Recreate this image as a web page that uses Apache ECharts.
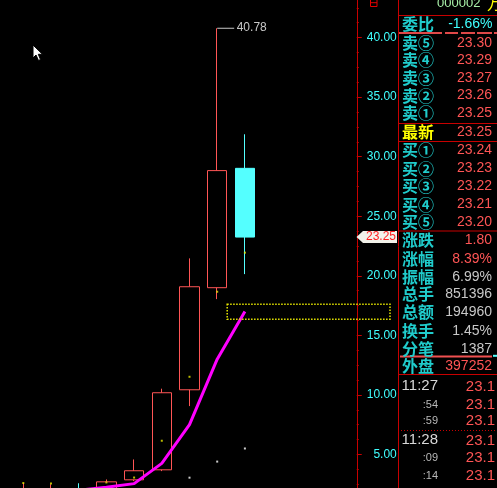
<!DOCTYPE html>
<html><head><meta charset="utf-8">
<script src="https://cdn.jsdelivr.net/npm/echarts@6/dist/echarts.min.js"></script>
<style>html,body{margin:0;padding:0;background:#000;overflow:hidden;width:497px;height:488px}
#c{position:absolute;left:0;top:-22px;width:497px;height:536px;}</style>
</head><body><div id="c"></div>
<script>
// ---- data ----
const categories = ['1','2','3','4','5','6','7','8','9','10','11','12'];
// [open, close, low, high]
const ohlc = [
  [1.95, 2.00, 1.85, 2.60],
  [1.95, 2.05, 1.90, 2.50],
  [2.10, 2.00, 1.90, 2.58],
  [1.90, 2.70, 1.85, 2.90],
  [2.87, 3.63, 2.76, 4.58],
  [3.71, 10.18, 3.60, 10.52],
  [10.43, 19.08, 9.06, 21.46],
  [19.00, 28.83, 18.04, 40.78],
  [29.02, 23.25, 20.14, 31.88]
];
const maLine = [null, null, 2.00, 2.25, 2.55, 4.25, 7.50, 13.00, 17.00];
const avgDots = [2.60, 2.56, null, 2.65, 3.06, 6.15, 11.52, 18.66, 21.94];
const whiteDots = [null, null, null, null, null, null, 3.05, 4.40, 5.50];
const yTicks = {min: 0, max: 45, step: 5};
const lastPrice = 23.25;
const highLabel = 40.78;
const stockCode = '000002';
const stockName = '万科A';
const weibiLabel = '委比';
const weibiValue = '-1.66%';
const bookLabels = ['卖⑤','卖④','卖③','卖②','卖①','最新','买①','买②','买③','买④','买⑤'];
const bookPrices = ['23.30','23.29','23.27','23.26','23.25','23.25','23.24','23.23','23.22','23.21','23.20'];
const statLabels = ['涨跌','涨幅','振幅','总手','总额','换手','分笔','外盘'];
const statValues = ['1.80','8.39%','6.99%','851396','194960','1.45%','1387','397252'];
const tickTimes = ['11:27',':54',':59','11:28',':09',':14'];
const tickPrices = ['23.1','23.1','23.1','23.1','23.1','23.1'];

// ---- layout / style ----
const OFF = 22; // chart canvas starts 22px above the window
const RED = '#ff5555', CYAN = '#54ffff', AXIS = '#c80000', TEAL = '#20cccc', GRAY = '#c8c8c8';
const NUMF = 'Liberation Sans, Arial, sans-serif';
const CJKF = '"Noto Sans CJK SC", sans-serif';
const LBLF = 'bold 16px ' + CJKF;
const bookY = [42.8, 60.3, 78, 95.5, 113, 132, 150.3, 168.5, 186.3, 204.5, 222];
const statY = [240, 258.7, 276.7, 294, 312, 331.3, 348.7, 366.3];
const statColors = [RED, RED, GRAY, GRAY, GRAY, GRAY, GRAY, RED];
const timeY = [385.8, 404.7, 421.3, 440.2, 457.5, 475.8];

const chart = echarts.init(document.getElementById('c'), null, {renderer: 'canvas'});
chart.setOption({
  backgroundColor: '#000',
  animation: false,
  grid: {left: 9.45, right: 155.15, top: 0, bottom: 0, containLabel: false, outerBoundsMode: 'none'},
  xAxis: {type: 'category', data: categories, boundaryGap: true, show: false},
  yAxis: {
    type: 'value', position: 'right', min: yTicks.min, max: yTicks.max, interval: yTicks.step, offset: 14.9,
    axisLine: {show: true, lineStyle: {color: AXIS, width: 1}},
    axisTick: {show: true, length: 5, lineStyle: {color: AXIS}},
    minorTick: {show: true, splitNumber: 4, length: 2, lineStyle: {color: AXIS}},
    splitLine: {show: false},
    axisLabel: {color: '#40ffff', fontSize: 12, fontFamily: NUMF, align: 'right', margin: 40,
      formatter: v => v.toFixed(2)}
  },
  series: [
    {type: 'candlestick', data: ohlc, barWidth: 20,
      itemStyle: {color: 'rgba(0,0,0,0)', color0: CYAN, borderColor: RED, borderColor0: CYAN, borderWidth: 1}},
    {type: 'line', data: maLine, symbol: 'none', lineStyle: {color: '#ff00ff', width: 3}, z: 3},
    {type: 'scatter', data: avgDots, symbol: 'rect', symbolSize: 2, itemStyle: {color: '#e8e800'}, z: 4},
    {type: 'scatter', data: whiteDots, symbol: 'rect', symbolSize: 2, itemStyle: {color: '#ffffff'}, z: 4}
  ]
});

function txt(text, x, y, fill, font, align) {
  return {type: 'text', z: 100, style: {text: text, x: x, y: y + OFF, fill: fill, font: font,
    align: align || 'left', textAlign: align || 'left', verticalAlign: 'middle', textVerticalAlign: 'middle'}};
}
function ln(x1, y1, x2, y2, stroke, w, dash) {
  return {type: 'line', z: 90, shape: {x1: x1, y1: y1 + OFF, x2: x2, y2: y2 + OFF},
    style: {stroke: stroke, lineWidth: w || 1, lineDash: dash || null}};
}
function pts(list) { return list.map(p => [p[0], p[1] + OFF]); }

const g = [];
// last price tag (positions from the y scale; already in canvas coords)
const yLast = chart.convertToPixel({yAxisIndex: 0}, lastPrice);
const axisX = 356.5;
g.push({type: 'polygon', z: 95, shape: {points: [[axisX, yLast], [axisX + 6.5, yLast - 6], [397, yLast - 6], [397, yLast + 6], [axisX + 6.5, yLast + 6]]},
  style: {fill: '#f2f2ea'}});
g.push({type: 'text', z: 100, style: {text: lastPrice.toFixed(2), x: 396, y: yLast, fill: '#ff2020', font: '12px ' + NUMF,
  align: 'right', textAlign: 'right', verticalAlign: 'middle', textVerticalAlign: 'middle'}});
// high label
const hx = chart.convertToPixel({xAxisIndex: 0}, categories[7]);
const hy = chart.convertToPixel({yAxisIndex: 0}, highLabel);
g.push({type: 'line', z: 90, shape: {x1: hx, y1: hy, x2: hx + 17, y2: hy}, style: {stroke: GRAY, lineWidth: 1}});
g.push({type: 'text', z: 100, style: {text: highLabel.toFixed(2), x: hx + 19.5, y: hy - 1, fill: GRAY, font: '12px ' + NUMF,
  align: 'left', textAlign: 'left', verticalAlign: 'middle', textVerticalAlign: 'middle'}});
// yellow dotted box (MA readout box)
const bTop = chart.convertToPixel({yAxisIndex: 0}, 17.6);
const bBot = chart.convertToPixel({yAxisIndex: 0}, 16.36);
g.push({type: 'rect', z: 92, shape: {x: hx + 10, y: bTop, width: 390 - hx - 10, height: bBot - bTop},
  style: {fill: null, stroke: '#e8e800', lineWidth: 1.5, lineDash: [1.5, 1.5]}});
// mouse cursor
g.push({type: 'polygon', z: 120, shape: {points: pts([[33, 45], [33, 58], [36, 55], [38.5, 60.5], [40.5, 59.5], [38.3, 54.3], [42.5, 54.3]])},
  style: {fill: '#ffffff', stroke: '#000000', lineWidth: 1}});
// small red icon at top of axis
g.push({type: 'rect', z: 92, shape: {x: 370.5, y: -3 + OFF, width: 6.5, height: 9.5}, style: {fill: null, stroke: '#e00000', lineWidth: 1}});
g.push(ln(370.5, 2.7, 377, 2.7, '#e00000', 1));

// right panel
g.push(ln(398.5, -OFF, 398.5, 520, AXIS, 1));
g.push(txt(stockCode, 437, 3.5, '#a8f0a8', '13px ' + NUMF, 'left'));
g.push(txt(stockName, 487, 3, '#ffff00', '16px ' + CJKF, 'left'));
g.push(ln(398, 15.5, 497, 15.5, AXIS, 1));
g.push(txt(weibiLabel, 402, 23.5, TEAL, LBLF, 'left'));
g.push(txt(weibiValue, 492.5, 24, '#40ffff', '14px ' + NUMF, 'right'));
g.push(ln(399, 33, 442, 33, '#e04848', 2));
[[445, 458], [461, 475], [477, 492], [494, 497]].forEach(s => g.push(ln(s[0], 33, s[1], 33, '#e04848', 2)));
bookLabels.forEach((l, i) => {
  g.push(txt(l, 402, bookY[i], l === '最新' ? '#ffff00' : TEAL, LBLF, 'left'));
  g.push(txt(bookPrices[i], 492, bookY[i], RED, '14px ' + NUMF, 'right'));
});
g.push(ln(398, 123.5, 497, 123.5, AXIS, 1));
g.push(ln(398, 141.5, 497, 141.5, AXIS, 1));
g.push(ln(398, 231, 497, 231, AXIS, 1));
statLabels.forEach((l, i) => {
  g.push(txt(l, 402, statY[i], TEAL, LBLF, 'left'));
  g.push(txt(statValues[i], 492, statY[i], statColors[i], '14px ' + NUMF, 'right'));
});
g.push(ln(400, 356.5, 492, 356.5, '#f05050', 2));
g.push(ln(493, 355.8, 497, 355.8, CYAN, 2));
g.push(ln(398, 374.5, 497, 374.5, AXIS, 1));
g.push(ln(398, 430.5, 497, 430.5, AXIS, 1, [1, 2]));
tickTimes.forEach((t, i) => {
  const big = t.length > 3;
  g.push(txt(t, 438, timeY[i], big ? '#d8d8d8' : '#b8b8b8', (big ? '15px ' : '11px ') + NUMF, 'right'));
  g.push(txt(tickPrices[i], 495, timeY[i] + (big ? 0.8 : 0), RED, '15px ' + NUMF, 'right'));
});

chart.setOption({graphic: {elements: g}});
</script></body></html>
